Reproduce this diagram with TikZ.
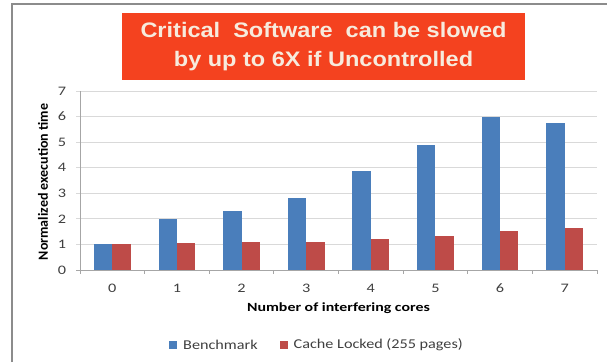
\documentclass[tikz,border=0pt]{standalone}
\usepackage{fontspec}
\setmainfont{Carlito}
\newfontfamily\headfont{Liberation Sans}
\definecolor{benchblue}{HTML}{4A7EBB}
\definecolor{lockred}{HTML}{BE4B48}
\definecolor{bannerred}{HTML}{F4421F}
\definecolor{bannertext}{HTML}{F7EBDD}
\definecolor{gridgray}{HTML}{D9D9D9}
\definecolor{axisgray}{HTML}{A6A6A6}
\definecolor{framegray}{HTML}{8C8C8C}
\definecolor{labelgray}{HTML}{404040}
\tikzset{
  banner/.style={fill=bannerred, text=bannertext, inner sep=0pt,
    minimum width=403pt, minimum height=67pt, align=center},
  bannerfont/.style={font=\headfont\bfseries\fontsize{21}{29}\selectfont, xscale=1.12},
  ticklabel/.style={inner sep=0pt, text=labelgray, font=\fontsize{13}{15}\selectfont, xscale=1.25},
  axistitle/.style={inner sep=0pt, text=black, font=\bfseries\fontsize{12.5}{15}\selectfont},
  legendtext/.style={inner sep=0pt, anchor=west, text=labelgray, font=\fontsize{13.5}{16}\selectfont, xscale=1.2},
  benchbar/.style={fill=benchblue},
  lockbar/.style={fill=lockred},
}
\begin{document}
\begin{tikzpicture}[x=1pt,y=-1pt]
\useasboundingbox (0,0) rectangle (607,362);
\fill[white] (0,0) rectangle (607,362);

% outer frame (left and top edges)
\draw[framegray, line width=1.6pt] (12,362) -- (12,4) -- (607,4);

% banner
\node[banner] (banner) at (323.5,46.5) {};
\node[bannerfont, text=bannertext, align=center, inner sep=0pt] (bannertxt) at (banner.center)
  {Critical\ \ Software\ \ can be slowed\\by up to 6X if Uncontrolled};

% plot geometry: x from 80 to 597, value 0 at y=270, 25.57 per unit
\def\xl{80}
\def\xr{597}
\def\yz{270}
\def\uy{25.57}
\def\cw{64.625}
\def\bw{18.4}

% gridlines and y tick labels
\foreach \v in {1,...,7}{
  \draw[gridgray, line width=0.9pt] (76,{\yz-\uy*\v}) -- (\xr,{\yz-\uy*\v});
}
\foreach \v in {0,...,7}{
  \node[ticklabel] (ylab\v) at (62,{\yz-\uy*\v}) {\v};
}
\draw[axisgray, line width=0.9pt] (\xl,{\yz-\uy*7}) -- (\xl,\yz);

% bars
\foreach \i/\b/\r in {0/1.0/1.0, 1/2.0/1.07, 2/2.3/1.08, 3/2.83/1.1,
                      4/3.86/1.2, 5/4.88/1.32, 6/5.98/1.51, 7/5.76/1.64}{
  \pgfmathsetmacro{\cx}{\xl+\cw*(\i+0.5)}
  \fill[benchbar] ({\cx-\bw},\yz) rectangle (\cx,{\yz-\uy*\b});
  \fill[lockbar] (\cx,\yz) rectangle ({\cx+\bw},{\yz-\uy*\r});
  \node[ticklabel] (xlab\i) at (\cx,288) {\i};
}

% x axis with category ticks
\draw[axisgray, line width=0.9pt] (76,\yz) -- (\xr,\yz);
\foreach \k in {0,...,8}{
  \draw[axisgray, line width=0.8pt] ({\xl+\cw*\k},\yz) -- ({\xl+\cw*\k},{\yz+4});
}

% axis titles
\node[axistitle, rotate=90, font=\bfseries\fontsize{14}{16}\selectfont] (ytitle) at (43,182) {Normalized execution time};
\node[axistitle, xscale=1.27] (xtitle) at (338.5,308.5) {Number of interfering cores};

% legend
\fill[benchbar] (169,341) rectangle (177,349);
\node[legendtext] (legbench) at (183,345) {Benchmark};
\fill[lockbar] (280,341) rectangle (288,349);
\node[legendtext] (leglock) at (293.5,345) {Cache Locked (255 pages)};
\end{tikzpicture}
\end{document}
